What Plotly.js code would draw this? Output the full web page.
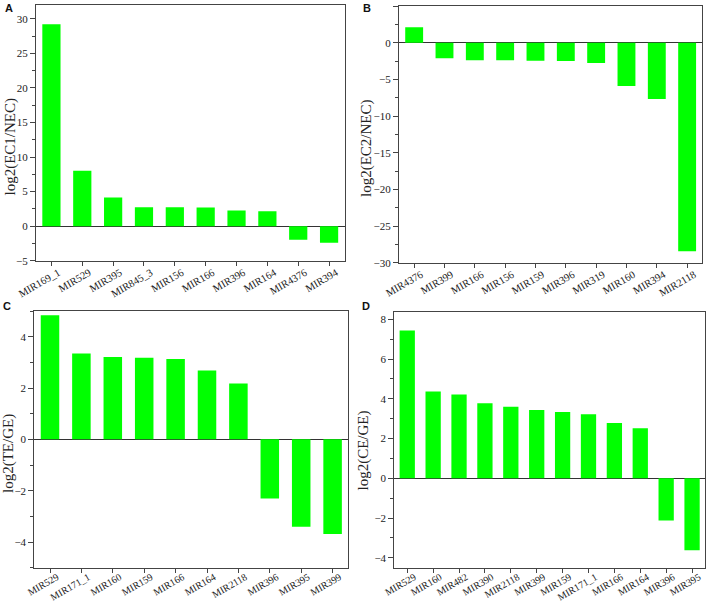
<!DOCTYPE html>
<html>
<head>
<meta charset="utf-8">
<script src="https://cdn.plot.ly/plotly-3.0.1.min.js"></script>
<style>html,body{margin:0;padding:0;background:#fff;}#chart{width:708px;height:602px;}</style>
</head>
<body>
<div id="chart"></div>
<script>
// Panel A
const catsA = ['MIR169_1','MIR529','MIR395','MIR845_3','MIR156','MIR166','MIR396','MIR164','MIR4376','MIR394'];
const valsA = [29.2, 8.03, 4.13, 2.74, 2.74, 2.69, 2.26, 2.16, -1.97, -2.4];
// Panel B
const catsB = ['MIR4376','MIR399','MIR166','MIR156','MIR159','MIR396','MIR319','MIR160','MIR394','MIR2118'];
const valsB = [2.09, -2.14, -2.41, -2.41, -2.45, -2.5, -2.77, -5.9, -7.68, -28.45];
// Panel C
const catsC = ['MIR529','MIR171_1','MIR160','MIR159','MIR166','MIR164','MIR2118','MIR396','MIR395','MIR399'];
const valsC = [4.83, 3.34, 3.21, 3.18, 3.13, 2.68, 2.18, -2.3, -3.4, -3.69];
// Panel D
const catsD = ['MIR529','MIR160','MIR482','MIR390','MIR2118','MIR399','MIR159','MIR171_1','MIR166','MIR164','MIR396','MIR395'];
const valsD = [7.44, 4.36, 4.21, 3.77, 3.6, 3.43, 3.33, 3.22, 2.78, 2.51, -2.12, -3.62];

const titles = ['log2(EC1/NEC)', 'log2(EC2/NEC)', 'log2(TE/GE)', 'log2(CE/GE)'];
const letters = ['A', 'B', 'C', 'D'];

const W = 708, H = 602;
const green = '#00FF00';
const lineCol = '#444444';

function bar(cats, vals, n) {
  return {
    type: 'bar', x: cats, y: vals,
    xaxis: n === 1 ? 'x' : 'x' + n,
    yaxis: n === 1 ? 'y' : 'y' + n,
    marker: {color: green, line: {width: 0}},
    hoverinfo: 'x+y'
  };
}

function xa(domain, anchor, fs, standoff) {
  return {
    domain: domain, anchor: anchor, type: 'category',
    showline: true, mirror: true, linecolor: lineCol, linewidth: 1,
    ticks: 'outside', ticklen: 4, tickcolor: lineCol, tickwidth: 1,
    tickangle: -30, showgrid: false, zeroline: false,
    ticklabelshift: 7, ticklabelstandoff: standoff,
    tickfont: {family: 'Liberation Serif', size: fs, color: '#222'},
    fixedrange: true
  };
}
function ya(domain, anchor, range, dtick, minor) {
  return {
    domain: domain, anchor: anchor, range: range, dtick: dtick, tick0: 0,
    showline: true, mirror: true, linecolor: lineCol, linewidth: 1,
    ticks: 'outside', ticklen: 5, tickcolor: lineCol, tickwidth: 1,
    minor: {ticks: 'outside', ticklen: 3, dtick: minor, tick0: 0, tickcolor: lineCol, showgrid: false},
    showgrid: false, zeroline: true, zerolinecolor: '#333', zerolinewidth: 1,
    tickfont: {family: 'Liberation Serif', size: 11, color: '#222'},
    fixedrange: true
  };
}

const px = v => v / W;
const py = v => 1 - v / H;

const data = [bar(catsA, valsA, 1), bar(catsB, valsB, 2), bar(catsC, valsC, 3), bar(catsD, valsD, 4)];

const titlePos = [[10, 146.5], [366, 148], [8, 454], [362.5, 451]];
const letterPos = [[8.5, 8], [367.5, 8], [6.5, 306], [365.5, 306]];

const annotations = [];
titles.forEach((t, i) => {
  annotations.push({
    text: t, xref: 'paper', yref: 'paper', x: px(titlePos[i][0]), y: py(titlePos[i][1]),
    xanchor: 'center', yanchor: 'middle', textangle: -90, showarrow: false,
    font: {family: 'Liberation Serif', size: 15, color: '#222'}
  });
});
letters.forEach((t, i) => {
  annotations.push({
    text: '<b>' + t + '</b>', xref: 'paper', yref: 'paper', x: px(letterPos[i][0]), y: py(letterPos[i][1]),
    xanchor: 'center', yanchor: 'middle', showarrow: false,
    font: {family: 'Liberation Sans', size: 11, color: '#111'}
  });
});

const layout = {
  width: W, height: H,
  margin: {l: 0, r: 0, t: 0, b: 0},
  paper_bgcolor: '#fff', plot_bgcolor: '#fff',
  showlegend: false, bargap: 0.41,
  font: {family: 'Liberation Serif', color: '#222'},
  xaxis: xa([px(36), px(344.5)], 'y', 10.5, -3),
  yaxis: ya([py(260.7), py(5)], 'x', [-5, 32], 5, 2.5),
  xaxis2: xa([px(399), px(702.3)], 'y2', 10.5, -3),
  yaxis2: ya([py(262.7), py(6)], 'x2', [-30, 5], 5, 2.5),
  xaxis3: xa([px(34.3), px(348.3)], 'y3', 10, -5),
  yaxis3: ya([py(567.7), py(311)], 'x3', [-5, 5], 2, 1),
  xaxis4: xa([px(394.3), px(705)], 'y4', 10, -5),
  yaxis4: ya([py(567.7), py(312.3)], 'x4', [-4.5, 8.35], 2, 1),
  annotations: annotations
};

Plotly.newPlot('chart', data, layout, {displayModeBar: false, staticPlot: true});
</script>
</body>
</html>
